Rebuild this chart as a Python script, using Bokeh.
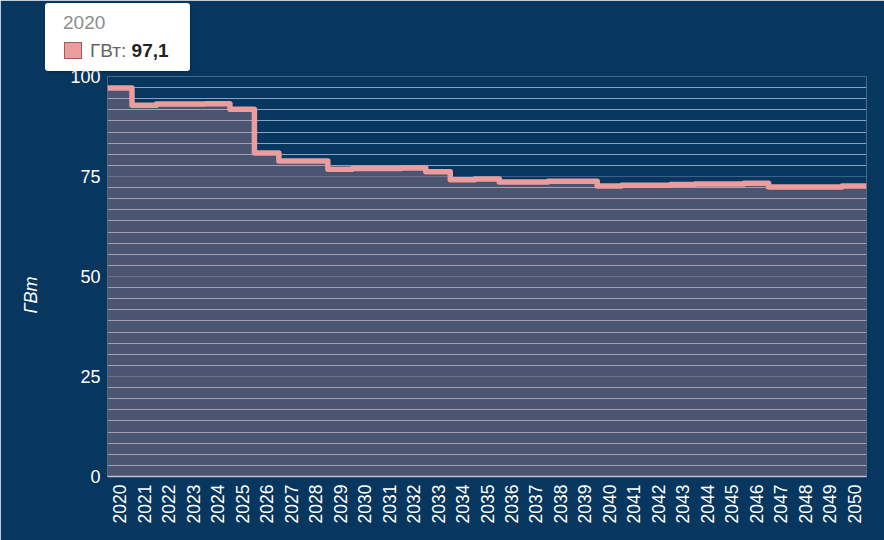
from math import pi
from bokeh.plotting import figure
from bokeh.models import Range1d, FixedTicker, SingleIntervalTicker, PrintfTickFormatter, GridBox, Div
from bokeh.embed import file_html
from bokeh.resources import INLINE

# ---- data ----
years = list(range(2020, 2051))
gw = [97.1, 92.8, 93.1, 93.1, 93.2, 91.8, 80.9, 78.9, 78.9, 76.8,
      77.0, 77.0, 77.1, 76.2, 74.2, 74.4, 73.6, 73.6, 73.8, 73.8,
      72.6, 72.8, 72.8, 73.0, 73.1, 73.1, 73.3, 72.4, 72.4, 72.4, 72.6]
y_axis_title = "ГВт"
series_name = "ГВт"
tooltip_index = 0
tooltip_year = str(years[tooltip_index])
tooltip_value = f"{gw[tooltip_index]:.1f}".replace(".", ",")

BG = "#07365f"
PINK = "#eb9c9c"
FONT = "Liberation Sans"
W, H = 884, 540

# step edges (category boundaries)
xs = [y - 0.5 for y in years] + [years[-1] + 0.5]
ys = gw + [gw[-1]]

p = figure(width=W, height=H, output_backend="svg", toolbar_location=None,
           x_range=Range1d(years[0] - 0.5, years[-1] + 0.5), y_range=Range1d(0, 100),
           min_border_left=107, min_border_right=18, min_border_top=76, min_border_bottom=64)
p.background_fill_color = BG
p.border_fill_color = BG
p.outline_line_color = None

# grids
p.xgrid.grid_line_color = None
p.yaxis.ticker = SingleIntervalTicker(interval=25, num_minor_ticks=9)
p.ygrid.grid_line_color = "#3d6089"
p.ygrid.grid_line_width = 1
p.ygrid.minor_grid_line_color = "#88a3c0"
p.ygrid.minor_grid_line_width = 1

# x axis
p.xaxis.ticker = FixedTicker(ticks=years)
p.xaxis.formatter = PrintfTickFormatter(format="%d")
p.xaxis.major_label_orientation = pi / 2
p.xaxis.major_tick_out = 0
p.xaxis.major_tick_in = 0
p.xaxis.minor_tick_out = 0
p.xaxis.minor_tick_in = 0
p.xaxis.major_label_standoff = 8
p.xaxis.axis_line_color = "#c4bfcf"
p.xaxis.axis_line_width = 1.5
p.xaxis.major_label_text_color = "#ffffff"
p.xaxis.major_label_text_font = FONT
p.xaxis.major_label_text_font_size = "17.5px"

# y axis
p.yaxis.major_tick_out = 0
p.yaxis.major_tick_in = 0
p.yaxis.minor_tick_out = 0
p.yaxis.minor_tick_in = 0
p.yaxis.axis_line_color = None
p.yaxis.major_label_standoff = 7
p.yaxis.major_label_text_color = "#ffffff"
p.yaxis.major_label_text_font = FONT
p.yaxis.major_label_text_font_size = "18px"

# series
p.varea_step(x=xs, y1=[0] * len(xs), y2=ys, step_mode="after",
             fill_color=PINK, fill_alpha=0.3)
p.step(x=xs, y=ys, mode="after", line_color=PINK, line_width=5.5, line_join="round")

# ---- HTML overlay: axis title and hover tooltip ----
html = f"""
<div style="position:relative;left:-6px;top:-5px;width:{W}px;height:{H}px;font-family:'{FONT}',Arial,sans-serif;pointer-events:none;">
  <div style="position:absolute;left:2px;top:285px;width:60px;height:20px;line-height:20px;
              text-align:center;color:#ffffff;font-size:18px;font-style:italic;
              transform:rotate(-90deg);white-space:nowrap;">{y_axis_title}</div>
  <div style="position:absolute;left:46px;top:3px;width:145px;height:68px;background:#ffffff;
              border-radius:3px;box-shadow:1px 1px 3px rgba(0,0,0,0.25);"></div>
  <div style="position:absolute;left:64px;top:13px;height:19px;line-height:19px;font-size:19px;
              color:#8c8c8c;white-space:nowrap;">{tooltip_year}</div>
  <div style="position:absolute;left:65px;top:42px;width:18px;height:17px;box-sizing:border-box;
              background:{PINK};border:1px solid #a45a5a;"></div>
  <div style="position:absolute;left:91px;top:41px;height:19px;line-height:19px;font-size:19px;
              color:#666666;white-space:nowrap;">{series_name}: <b style="color:#222222;">{tooltip_value}</b></div>
</div>
"""
overlay = Div(text=html, width=W, height=H, styles={"z-index": "10"})

layout = GridBox(children=[(p, 0, 0), (overlay, 0, 0)])
open("out.html", "w").write(file_html(layout, INLINE))
